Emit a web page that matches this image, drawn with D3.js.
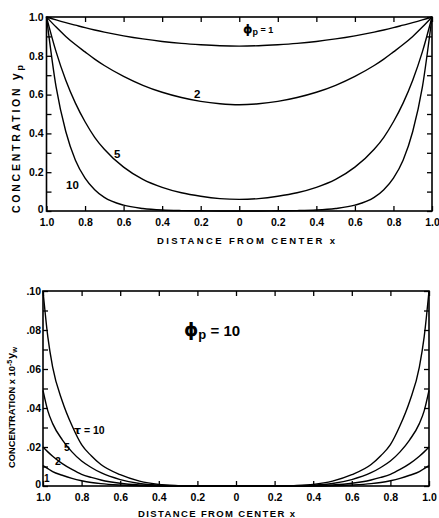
<!DOCTYPE html>
<html><head><meta charset="utf-8">
<script src="https://cdn.jsdelivr.net/npm/d3@7"></script>
<style>
html,body{margin:0;padding:0;background:#fff;}
svg{display:block;font-family:"Liberation Sans",Arial,sans-serif;font-weight:bold;}
</style></head>
<body>
<svg id="chart" width="439" height="518"></svg>
<script>
// ---------- DATA ----------
// Top panel: distance from center (half profile, mirrored on both sides)
const xTop = [0, 0.1, 0.2, 0.3, 0.4, 0.5, 0.6, 0.7, 0.75, 0.8, 0.85, 0.9, 0.95, 1.0];
const phi1  = [0.850, 0.852, 0.857, 0.864, 0.874, 0.887, 0.903, 0.922, 0.933, 0.945, 0.958, 0.971, 0.985, 1.0];
const phi2  = [0.548, 0.553, 0.565, 0.585, 0.612, 0.648, 0.694, 0.750, 0.783, 0.820, 0.858, 0.900, 0.948, 1.0];
const phi5  = [0.060, 0.064, 0.076, 0.094, 0.122, 0.163, 0.226, 0.318, 0.380, 0.460, 0.556, 0.674, 0.820, 1.0];
const phi10 = [0.000, 0.000, 0.001, 0.002, 0.005, 0.013, 0.030, 0.070, 0.110, 0.170, 0.262, 0.410, 0.638, 1.0];
const topSeriesNames = ["\u03d5p=1", "2", "5", "10"];

// Bottom panel (phi_p = 10), concentration x 10^-5 y_w
const xBot = [0, 0.2, 0.3, 0.4, 0.5, 0.6, 0.7, 0.75, 0.8, 0.85, 0.9, 0.95, 0.975, 1.0];
const tau10 = [0, 0, 0.0002, 0.0008, 0.0025, 0.0058, 0.0110, 0.0155, 0.0212, 0.0310, 0.0435, 0.0610, 0.0765, 0.100];
const tau5  = [0, 0, 0.0001, 0.0004, 0.0013, 0.0033, 0.0068, 0.0095, 0.0128, 0.0175, 0.0237, 0.0320, 0.0385, 0.049];
const tau2  = [0, 0, 0, 0.0001, 0.0005, 0.0014, 0.0031, 0.0044, 0.0060, 0.0085, 0.0115, 0.0153, 0.0175, 0.020];
const tau1  = [0, 0, 0, 0, 0.0001, 0.0005, 0.0012, 0.0018, 0.0027, 0.0039, 0.0055, 0.0074, 0.0089, 0.0105];

// Tick labels
const xTickVals   = [-1, -0.8, -0.6, -0.4, -0.2, 0, 0.2, 0.4, 0.6, 0.8, 1];
const xTickLabels = ["1.0","0.8","0.6","0.4","0.2","0","0.2","0.4","0.6","0.8","1.0"];
const yTopTickVals   = [0, 0.2, 0.4, 0.6, 0.8, 1.0];
const yTopTickLabels = ["0","0.2","0.4","0.6","0.8","1.0"];
const yTopMinor = [0,0.1,0.2,0.3,0.4,0.5,0.6,0.7,0.8,0.9,1.0];
const yBotTickVals   = [0, 0.02, 0.04, 0.06, 0.08, 0.10];
const yBotTickLabels = ["0",".02",".04",".06",".08",".10"];
const yBotMinor = [0,0.01,0.02,0.03,0.04,0.05,0.06,0.07,0.08,0.09,0.10];

// ---------- DRAW ----------
const svg = d3.select("#chart");
const mirror = (xs, vs) => {
  const left = xs.map((x,i)=>[-x, vs[i]]).reverse();
  const right = xs.slice(1).map((x,i)=>[x, vs[i+1]]);
  return left.concat(right);
};

function panel(cfg){
  const g = svg.append("g");
  const x = d3.scaleLinear().domain([-1,1]).range([cfg.left, cfg.right]);
  const y = d3.scaleLinear().domain([0, cfg.ymax]).range([cfg.bottom, cfg.top]);
  const tk = 5;
  const ax = g.append("g").attr("transform",`translate(0,${cfg.bottom})`)
    .call(d3.axisBottom(x).tickValues(xTickVals).tickSizeInner(-tk).tickSizeOuter(0).tickPadding(7.5)
      .tickFormat((d,i)=>xTickLabels[i]));
  const axT = g.append("g").attr("transform",`translate(0,${cfg.top})`)
    .call(d3.axisTop(x).tickValues(xTickVals).tickSizeInner(-tk).tickSizeOuter(0).tickFormat(""));
  const axL = g.append("g").attr("transform",`translate(${cfg.left},0)`)
    .call(d3.axisLeft(y).tickValues(cfg.minor).tickSizeInner(-tk).tickSizeOuter(0).tickFormat(""));
  const axLL = g.append("g").attr("transform",`translate(${cfg.left},0)`)
    .call(d3.axisLeft(y).tickValues(cfg.yVals).tickSize(0).tickPadding(cfg.ypad)
      .tickFormat((d,i)=>cfg.yLabels[i]));
  const axR = g.append("g").attr("transform",`translate(${cfg.right},0)`)
    .call(d3.axisRight(y).tickValues(cfg.minor).tickSizeInner(-tk).tickSizeOuter(0).tickFormat(""));
  [ax,axT,axL,axLL,axR].forEach(a=>{
    a.select(".domain").remove();
    a.selectAll("line").attr("stroke","#000").attr("stroke-width",1.3);
    a.selectAll("text").attr("font-family","Liberation Sans, Arial, sans-serif")
      .attr("font-weight","bold").attr("font-size",10.5).attr("fill","#000");
  });
  // lift the "0" value label slightly so it clears the corner x label
  axLL.selectAll(".tick").filter(d=>d===0).select("text").attr("dy","0.1em");
  g.append("rect").attr("x",cfg.left).attr("y",cfg.top)
    .attr("width",cfg.right-cfg.left).attr("height",cfg.bottom-cfg.top)
    .attr("fill","none").attr("stroke","#000").attr("stroke-width",1.6);
  const line = d3.line().x(d=>x(d[0])).y(d=>y(d[1])).curve(d3.curveMonotoneX);
  cfg.series.forEach(s=>{
    g.append("path").attr("d", line(mirror(cfg.xs, s)))
      .attr("fill","none").attr("stroke","#000").attr("stroke-width",1.4);
  });
  return {g,x,y};
}

const P1 = panel({left:46.5, right:432, top:17, bottom:211, ymax:1,
  minor:yTopMinor, yVals:yTopTickVals, yLabels:yTopTickLabels, ypad:3,
  xs:xTop, series:[phi1,phi2,phi5,phi10]});
const P2 = panel({left:43, right:429, top:291, bottom:486, ymax:0.1,
  minor:yBotMinor, yVals:yBotTickVals, yLabels:yBotTickLabels, ypad:2,
  xs:xBot, series:[tau10,tau5,tau2,tau1]});

// ---------- TEXT ----------
const txt = (x,y,s,size,opts={}) => {
  const t = svg.append("text").attr("x",x).attr("y",y).attr("font-size",size)
    .attr("fill","#000").text(s);
  Object.entries(opts).forEach(([k,v])=>t.attr(k,v));
  return t;
};
txt(157,243.5,"DISTANCE FROM CENTER x",9.5,{textLength:178,lengthAdjust:"spacing"});
txt(138,516.5,"DISTANCE FROM CENTER x",9.5,{textLength:157,lengthAdjust:"spacing"});

const yt1 = svg.append("text").attr("transform","translate(19.5,213) rotate(-90)")
  .attr("font-size",10.5).attr("fill","#000")
  .attr("textLength",148).attr("lengthAdjust","spacing");
yt1.append("tspan").text("CONCENTRATION ");
yt1.append("tspan").text("y").attr("font-size",12);
yt1.append("tspan").text("p").attr("font-size",9).attr("baseline-shift","-30%");

const yt2 = svg.append("text").attr("transform","translate(14.5,468) rotate(-90)")
  .attr("font-size",9.3).attr("fill","#000")
  .attr("textLength",121).attr("lengthAdjust","spacing");
yt2.append("tspan").text("CONCENTRATION x 10");
yt2.append("tspan").text("-5").attr("font-size",7).attr("baseline-shift","45%");
yt2.append("tspan").text("y").attr("font-size",10.5).attr("dx",1);
yt2.append("tspan").text("w").attr("font-size",7.5).attr("baseline-shift","-30%");

const l1 = svg.append("text").attr("x",243).attr("y",33).attr("font-size",10).attr("fill","#000");
l1.append("tspan").text("\u03d5").attr("font-family","DejaVu Sans").attr("font-size",12);
l1.append("tspan").text("p").attr("font-size",9).attr("baseline-shift","-25%");
l1.append("tspan").text(" = 1").attr("font-size",9);
txt(194,97.5,"2",11.5);
txt(114,158,"5",11.5);
txt(66,189,"10",11.5);

const l2 = svg.append("text").attr("x",184).attr("y",336).attr("font-size",16).attr("fill","#000");
l2.append("tspan").text("\u03d5").attr("font-family","DejaVu Sans").attr("font-size",18);
l2.append("tspan").text("p").attr("font-size",13).attr("baseline-shift","-25%");
l2.append("tspan").text(" = 10").attr("font-size",15);
const l3 = svg.append("text").attr("x",74).attr("y",434).attr("font-size",10.5).attr("fill","#000");
l3.append("tspan").text("\u03c4").attr("font-family","DejaVu Sans").attr("font-size",11);
l3.append("tspan").text(" = 10");
txt(64,451,"5",10.5);
txt(55,465,"2",10.5);
txt(44,482,"1",10);
</script>
</body></html>
